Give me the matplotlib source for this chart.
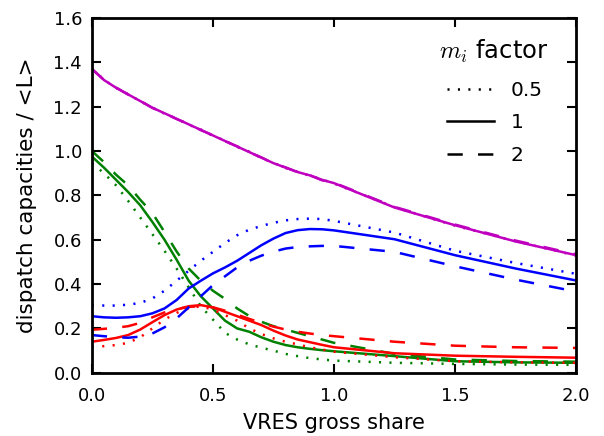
import numpy as np
import matplotlib
matplotlib.use('Agg')
import matplotlib.pyplot as plt

plt.rcParams['mathtext.fontset'] = 'cm'
plt.rcParams['lines.scale_dashes'] = False

# -----Data-----
share = [0.0, 0.05, 0.1, 0.15, 0.2, 0.25, 0.3, 0.35, 0.4, 0.45, 0.5, 0.55, 0.6,
         0.65, 0.7, 0.75, 0.8, 0.85, 0.9, 0.95, 1.0, 1.25, 1.5, 1.75, 2.0]

# magenta
mag_05 = [1.37, 1.322, 1.284, 1.256, 1.224, 1.196, 1.168, 1.146, 1.118, 1.097, 1.068, 1.047, 1.018,
          0.997, 0.968, 0.947, 0.923, 0.906, 0.888, 0.872, 0.853, 0.747, 0.663, 0.593, 0.528]
mag_1 = [1.37, 1.32, 1.285, 1.255, 1.225, 1.195, 1.17, 1.145, 1.12, 1.095, 1.07, 1.045, 1.02,
         0.995, 0.97, 0.945, 0.925, 0.905, 0.89, 0.87, 0.855, 0.745, 0.665, 0.592, 0.53]
mag_2 = [1.37, 1.321, 1.286, 1.254, 1.226, 1.194, 1.171, 1.144, 1.121, 1.094, 1.071, 1.044, 1.021,
         0.994, 0.971, 0.944, 0.926, 0.904, 0.891, 0.868, 0.857, 0.748, 0.668, 0.596, 0.534]

# blue
blue_05 = [0.305, 0.303, 0.303, 0.307, 0.315, 0.335, 0.37, 0.415, 0.46, 0.505, 0.545, 0.585, 0.62,
           0.645, 0.662, 0.676, 0.687, 0.693, 0.695, 0.693, 0.685, 0.632, 0.55, 0.495, 0.446]
blue_1 = [0.255, 0.25, 0.248, 0.25, 0.255, 0.268, 0.29, 0.328, 0.38, 0.415, 0.448, 0.475, 0.505,
          0.54, 0.575, 0.605, 0.63, 0.643, 0.648, 0.647, 0.642, 0.602, 0.53, 0.47, 0.416]
blue_2 = [0.17, 0.165, 0.16, 0.158, 0.163, 0.177, 0.205, 0.245, 0.295, 0.345, 0.395, 0.435, 0.475,
          0.505, 0.528, 0.546, 0.56, 0.567, 0.57, 0.572, 0.572, 0.545, 0.48, 0.42, 0.366]

# red
red_05 = [0.118, 0.12, 0.125, 0.135, 0.16, 0.2, 0.24, 0.27, 0.29, 0.3, 0.285, 0.26, 0.235,
          0.2, 0.175, 0.155, 0.14, 0.128, 0.115, 0.105, 0.095, 0.07, 0.052, 0.047, 0.045]
red_1 = [0.14, 0.148, 0.157, 0.17, 0.195, 0.228, 0.26, 0.285, 0.3, 0.305, 0.295, 0.275, 0.255,
         0.235, 0.215, 0.19, 0.168, 0.15, 0.138, 0.126, 0.115, 0.088, 0.077, 0.072, 0.068]
red_2 = [0.194, 0.198, 0.203, 0.21, 0.225, 0.25, 0.272, 0.287, 0.297, 0.3, 0.295, 0.28, 0.262,
         0.243, 0.225, 0.208, 0.195, 0.185, 0.177, 0.17, 0.165, 0.14, 0.122, 0.115, 0.112]

# green
green_05 = [0.945, 0.9, 0.845, 0.775, 0.7, 0.625, 0.55, 0.47, 0.385, 0.3, 0.24, 0.18, 0.15,
            0.128, 0.113, 0.1, 0.085, 0.075, 0.066, 0.06, 0.055, 0.045, 0.04, 0.037, 0.036]
green_1 = [0.975, 0.925, 0.87, 0.815, 0.755, 0.68, 0.6, 0.51, 0.415, 0.345, 0.29, 0.235, 0.2,
           0.185, 0.16, 0.14, 0.125, 0.115, 0.108, 0.102, 0.097, 0.075, 0.052, 0.047, 0.045]
green_2 = [1.0, 0.95, 0.893, 0.845, 0.78, 0.72, 0.635, 0.547, 0.47, 0.415, 0.37, 0.333, 0.29,
           0.256, 0.23, 0.21, 0.195, 0.18, 0.165, 0.15, 0.135, 0.085, 0.06, 0.053, 0.05]

factors = ['0.5', '1', '2']
lw = 1.8
dot_style = dict(dashes=(1.5, 6))
dash_style = dict(dashes=(11, 11))

fig = plt.figure(figsize=(6.04, 4.36), dpi=100)
ax = fig.add_axes([0.152, 0.145, 0.802, 0.814])

groups = [(green_05, green_1, green_2, 'g'),
          (red_05, red_1, red_2, 'r'),
          (blue_05, blue_1, blue_2, 'b'),
          (mag_05, mag_1, mag_2, 'm')]
for y05, y1, y2, col in groups:
    ax.plot(share, y05, color=col, lw=lw, **dot_style)
    ax.plot(share, y1, color=col, lw=lw)
    ax.plot(share, y2, color=col, lw=lw, **dash_style)

# legend handles (black), title drawn separately
h05, = ax.plot([], [], color='k', lw=lw, **dot_style)
h1, = ax.plot([], [], color='k', lw=lw)
h2, = ax.plot([], [], color='k', lw=lw, **dash_style)
leg = ax.legend([h05, h1, h2], factors, frameon=False,
                loc='upper left', bbox_to_anchor=(0.7335, 0.821),
                fontsize=14.5, handlelength=2.35, handletextpad=0.8,
                labelspacing=0.65, borderpad=0, borderaxespad=0)
ax.text(0.83, 0.905, '$m_i$ factor', transform=ax.transAxes,
        ha='center', va='center', fontsize=17.5)

ax.set_xlim(0, 2)
ax.set_ylim(0, 1.6)
ax.set_xticks([0, 0.5, 1.0, 1.5, 2.0])
ax.set_yticks(np.arange(0, 1.61, 0.2))
ax.xaxis.set_major_formatter(matplotlib.ticker.FormatStrFormatter('%.1f'))
ax.yaxis.set_major_formatter(matplotlib.ticker.FormatStrFormatter('%.1f'))
ax.tick_params(direction='in', length=6.5, width=1.5, labelsize=13,
               top=True, right=True)
ax.tick_params(axis='x', pad=10)
ax.tick_params(axis='y', pad=7)
for sp in ax.spines.values():
    sp.set_linewidth(2)

ax.set_xlabel('VRES gross share', fontsize=15, labelpad=6)
ax.set_ylabel('dispatch capacities / <L>', fontsize=15.5, labelpad=12)

fig.savefig('out.png', dpi=100)
